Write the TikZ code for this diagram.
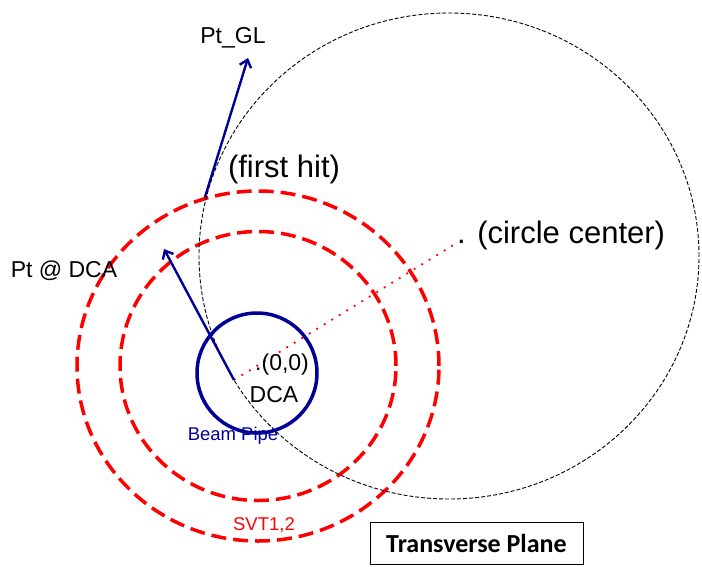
\documentclass[tikz,border=0pt]{standalone}
\usepackage{fontspec}
\setmainfont{Liberation Sans}
\newfontfamily\calibri{Carlito}
\usetikzlibrary{arrows.meta}
\definecolor{pipeblue}{RGB}{0,0,150}
\tikzset{
  svtring/.style={draw=red, line width=3.5pt, dash pattern=on 15pt off 7pt},
  helix/.style={draw=black, line width=0.9pt, dash pattern=on 4pt off 2pt},
  ptarrow/.style={draw=pipeblue, line width=2.4pt, -{Straight Barb[length=7pt,width=12pt]}},
  lbl/.style={font=\fontsize{23}{26}\selectfont, inner sep=0pt},
  biglbl/.style={font=\fontsize{31}{34}\selectfont, inner sep=0pt},
  smalllbl/.style={font=\fontsize{18.5}{21}\selectfont, inner sep=0pt},
}
\begin{document}
\begin{tikzpicture}[x=1pt, y=-1pt]
\useasboundingbox (0,0) rectangle (702,566);
% centres and track points
\coordinate (svt) at (258,366);
\coordinate (bp) at (257,373);
\coordinate (cc) at (449,256);
\coordinate (ccdot) at (455,244);
\coordinate (dca) at (234,380);
\coordinate (hit) at (205,197);
\coordinate (pdca) at (164,249);
\coordinate (pgl) at (248,58);
% detector layers
\draw[svtring] (svt) ellipse [x radius=181pt, y radius=175pt];
\draw[svtring] (svt) ellipse [x radius=138pt, y radius=134.5pt];
% track circle
\draw[helix] (cc) ellipse [x radius=250pt, y radius=243pt];
\draw[pipeblue, line width=3.5pt] (bp) circle [radius=60pt];
\draw[red, line width=1.8pt, dash pattern=on 1.8pt off 7pt] (dca) -- (ccdot);
% momenta
\draw[ptarrow] (dca) -- (pdca);
\draw[ptarrow] (hit) -- (pgl);
% labels
\node[lbl, anchor=base] (glLbl) at (233,43) {Pt\_GL};
\node[biglbl, anchor=base] (hitLbl) at (284,177) {(first hit)};
\node[lbl, anchor=base] (dcaPtLbl) at (64,277) {Pt @ DCA};
\node[biglbl, anchor=base west] (ccLbl) at (457,243) {. (circle center)};
\node[lbl, anchor=base west] (originLbl) at (255,370) {.(0,0)};
\node[lbl, anchor=base] (dcaLbl) at (274,402) {DCA};
\node[smalllbl, anchor=base, text=pipeblue] (bpLbl) at (233,440) {Beam Pipe};
\node[smalllbl, anchor=base, text=red] (svtLbl) at (264,530) {SVT1,2};
\node[draw, line width=1pt, minimum width=213pt, minimum height=42pt,
      font=\calibri\bfseries\fontsize{26}{30}\selectfont] (planeLbl) at (476.5,543) {Transverse Plane};
\end{tikzpicture}
\end{document}
